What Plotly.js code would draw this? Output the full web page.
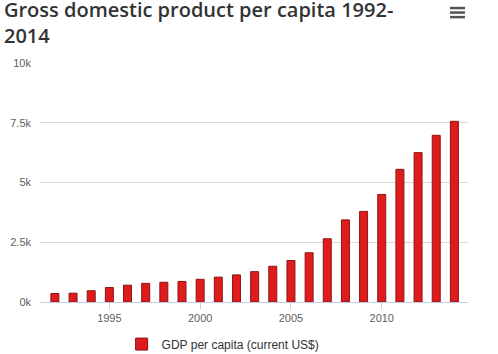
<!DOCTYPE html>
<html>
<head>
<meta charset="utf-8">
<script src="https://cdn.plot.ly/plotly-3.0.1.min.js"></script>
<style>html,body{margin:0;padding:0;background:#fff;}#chart{width:498px;height:354px;}</style>
</head>
<body>
<div id="chart"></div>
<script>
const years = [1992,1993,1994,1995,1996,1997,1998,1999,2000,2001,2002,2003,2004,2005,2006,2007,2008,2009,2010,2011,2012,2013,2014];
const gdpPerCapita = [355,370,470,605,705,780,825,860,950,1040,1135,1270,1495,1735,2060,2645,3435,3790,4500,5550,6250,6975,7560];
const seriesName = 'GDP per capita (current US$)';
const yTickVals = [0,2500,5000,7500,10000];
const yTickText = ['0k','2.5k','5k','7.5k','10k'];
const xTickVals = [1995,2000,2005,2010];

const trace = {
  type: 'bar', x: years, y: gdpPerCapita, name: seriesName,
  width: 0.44,
  marker: {color: '#e01b1b', line: {color: '#8c1515', width: 1}},
  showlegend: true, hoverinfo: 'x+y'
};

const menuLine = (y) => ({type:'line', xref:'paper', yref:'paper', x0: 0.958, x1: 0.993, y0: y, y1: y,
  line:{color:'#555', width: 2.5}});

const layout = {
  width: 498, height: 354,
  paper_bgcolor: '#fff', plot_bgcolor: '#fff',
  margin: {l: 40, r: 30, t: 63, b: 52},
  title: {
    text: 'Gross domestic product per capita 1992-<br>2014',
    font: {family: 'Open Sans, sans-serif', size: 20, color: '#333', weight: 600},
    xref: 'container', yref: 'container', x: 0.008, xanchor: 'left', y: 0.952, yanchor: 'middle'
  },
  xaxis: {
    range: [1991.18, 2014.75], tickvals: xTickVals,
    ticks: 'outside', ticklen: 6, tickcolor: '#c0d0e0', tickwidth: 1,
    showline: true, linecolor: '#c0d0e0', linewidth: 1,
    showgrid: false, zeroline: false,
    tickfont: {family: 'Liberation Sans, Arial, sans-serif', size: 11, color: '#606060'}
  },
  yaxis: {
    range: [0, 10000], tickvals: yTickVals, ticktext: yTickText,
    showgrid: true, gridcolor: '#d8d8d8', gridwidth: 1, zeroline: false,
    ticklabelstandoff: 8,
    tickfont: {family: 'Liberation Sans, Arial, sans-serif', size: 11, color: '#606060'}
  },
  legend: {
    orientation: 'h', x: 0.448, xanchor: 'center', xref: 'container',
    y: 0.028, yanchor: 'middle', yref: 'container',
    font: {family: 'Liberation Sans, Arial, sans-serif', size: 12, color: '#333'}
  },
  shapes: [menuLine(1.230), menuLine(1.211), menuLine(1.192)]
};

Plotly.newPlot('chart', [trace], layout, {displayModeBar: false, responsive: false});
</script>
</body>
</html>
